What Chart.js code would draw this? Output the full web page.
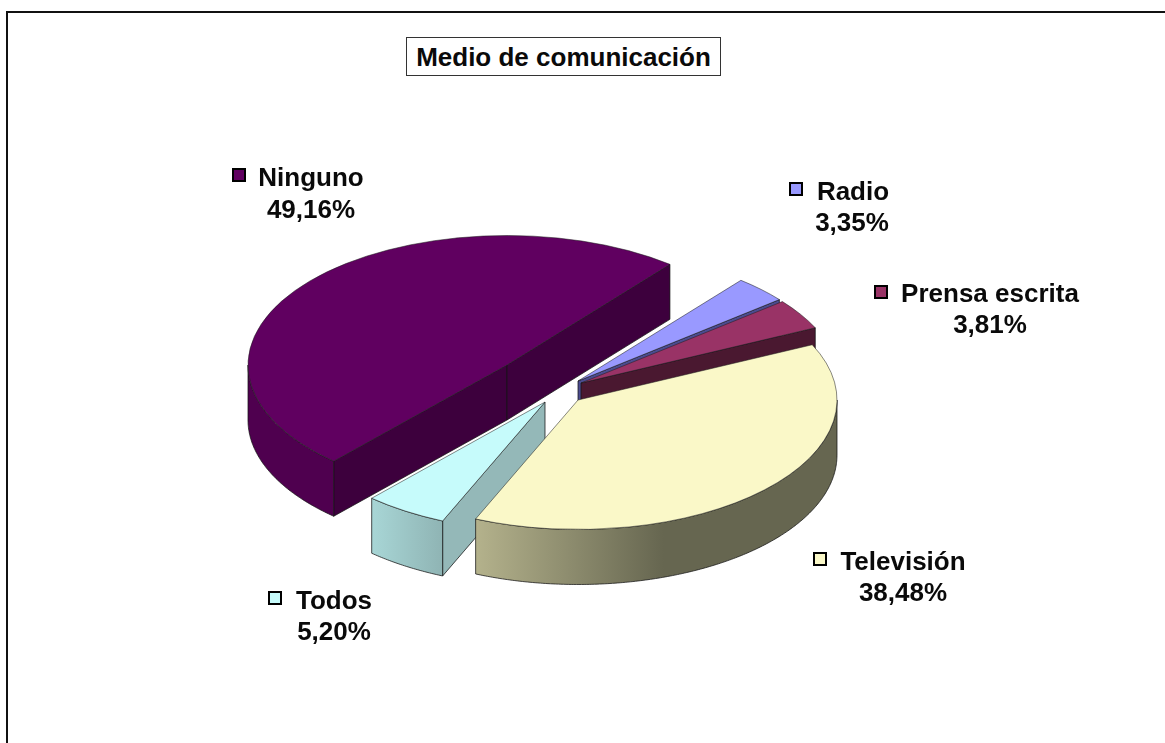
<!DOCTYPE html>
<html>
<head>
<meta charset="utf-8">
<script src="https://cdn.jsdelivr.net/npm/chart.js@4"></script>
<style>
    html, body { margin: 0; padding: 0; background: #fff; overflow: hidden; }
    body { width: 1165px; height: 743px; position: relative; font-family: "Liberation Sans", Arial, sans-serif; font-weight: bold; color: #0a0a0a; }
    #frame { position: absolute; left: 6px; top: 11px; right: 0; bottom: 0; border-top: 2px solid #111; border-left: 2px solid #111; }
    canvas { position: absolute; left: 0; top: 0; }
    #title { position: absolute; left: 406px; top: 37px; width: 313px; height: 37px; line-height: 38px; text-align: center; font-size: 26px; border: 1px solid #333; background: #fff; white-space: nowrap; }
    .name, .val { position: absolute; font-size: 26px; line-height: 30px; white-space: nowrap; transform: translateX(-50%); }
    .swatch { position: absolute; width: 10px; height: 10px; border: 2px solid #000; }
</style>
</head>
<body>
<div id="frame"></div>
<canvas id="pie" width="1165" height="743"></canvas>
<div id="title">Medio de comunicación</div>
<div id="labels"></div>
<script>
const categories = ['Ninguno', 'Radio', 'Prensa escrita', 'Televisión', 'Todos'];
const values = [49.16, 3.35, 3.81, 38.48, 5.20];

const topColors = ['#600060', '#9999ff', '#993366', '#faf8c8', '#c6fbfb'];
const cutColors = ['#3d003d', '#4c4c90', '#4a1830', '#666650', '#94b8b8'];
// outer wall gradient stops, left to right
const wallColors = [
    ['#4f004f', '#4f004f'],
    ['#5c5ca0', '#5c5ca0'],
    ['#5c2040', '#5c2040'],
    ['#b4b28c', '#666650'],
    ['#a8d6d6', '#8fb4b4']
];
// how far each slice is pulled out of the pie, in screen px
const shiftX = [-45, 26, 29, 26, -7];
const shiftY = [-23, -7, -5, 12, 14];
const drawOrder = [0, 1, 2, 4, 3];

const SQUASH = 0.5;
const DEPTH = 55;

// centre x of name, centre x of value, swatch left
const labelSpots = [
    { sw: [232, 168], name: [311, 162], val: [311, 194] },
    { sw: [789, 182], name: [853, 176], val: [852, 207] },
    { sw: [874, 285], name: [990, 278], val: [990, 309] },
    { sw: [813, 552], name: [903, 546], val: [903, 577] },
    { sw: [268, 591], name: [334, 585], val: [334, 616] }
];

const labelsBox = document.getElementById('labels');
categories.forEach((cat, i) => {
    const spot = labelSpots[i];
    labelsBox.innerHTML +=
        `<div class="swatch" style="left:${spot.sw[0]}px;top:${spot.sw[1]}px;background:${topColors[i]}"></div>` +
        `<div class="name" style="left:${spot.name[0]}px;top:${spot.name[1]}px">${cat}</div>` +
        `<div class="val" style="left:${spot.val[0]}px;top:${spot.val[1]}px">${values[i].toFixed(2).replace('.', ',')}%</div>`;
});

function drawSide(ctx, arc, i) {
    const r = arc.outerRadius;
    const ax = arc.x + shiftX[i];
    const ay = arc.y + shiftY[i];
    const s = arc.startAngle;
    const e = arc.endAngle;
    const px = a => ax + Math.cos(a) * r;
    const py = a => ay + Math.sin(a) * r * SQUASH;

    ctx.lineWidth = 1;
    ctx.lineJoin = 'round';
    ctx.strokeStyle = 'rgba(20,20,20,0.75)';

    const cutFace = a => {
        ctx.beginPath();
        ctx.moveTo(ax, ay);
        ctx.lineTo(px(a), py(a));
        ctx.lineTo(px(a), py(a) + DEPTH);
        ctx.lineTo(ax, ay + DEPTH);
        ctx.closePath();
        ctx.fillStyle = cutColors[i];
        ctx.fill();
        ctx.stroke();
    };
    if (Math.cos(s) < 0) cutFace(s);
    if (Math.cos(e) > 0) cutFace(e);

    // rim, only the part that faces the viewer
    for (let k = -2; k <= 2; k++) {
        const a0 = Math.max(s, k * 2 * Math.PI);
        const a1 = Math.min(e, k * 2 * Math.PI + Math.PI);
        if (a1 <= a0) continue;
        const left = Math.min(px(a0), px(a1));
        const right = Math.max(px(a0), px(a1));
        const grad = ctx.createLinearGradient(left, 0, right, 0);
        grad.addColorStop(0, wallColors[i][0]);
        grad.addColorStop(i === 3 ? 0.52 : 1, wallColors[i][1]);
        grad.addColorStop(1, wallColors[i][1]);
        ctx.beginPath();
        for (let a = a0; a < a1; a += 0.01) ctx.lineTo(px(a), py(a));
        ctx.lineTo(px(a1), py(a1));
        for (let a = a1; a > a0; a -= 0.01) ctx.lineTo(px(a), py(a) + DEPTH);
        ctx.lineTo(px(a0), py(a0) + DEPTH);
        ctx.closePath();
        ctx.fillStyle = grad;
        ctx.fill();
        ctx.stroke();
    }
}

const pie3d = {
    id: 'pie3d',
    beforeDatasetDraw(chart, args) {
        const ctx = chart.ctx;
        drawOrder.forEach(i => {
            const arc = args.meta.data[i];
            ctx.save();
            drawSide(ctx, arc, i);
            ctx.translate(shiftX[i] + arc.x, shiftY[i] + arc.y);
            ctx.scale(1, SQUASH);
            ctx.translate(-arc.x, -arc.y);
            arc.draw(ctx);
            ctx.restore();
        });
        return false;
    }
};

new Chart(document.getElementById('pie'), {
    type: 'pie',
    data: {
        labels: categories,
        datasets: [{
            data: values,
            backgroundColor: topColors,
            borderColor: 'rgba(30,30,30,0.7)',
            borderWidth: 1,
            clip: false
        }]
    },
    options: {
        responsive: false,
        animation: false,
        rotation: 222,
        radius: 259,
        layout: { padding: { left: 0, right: 61, top: 33, bottom: 0 } },
        events: [],
        plugins: {
            legend: { display: false },
            tooltip: { enabled: false }
        }
    },
    plugins: [pie3d]
});
</script>
</body>
</html>
